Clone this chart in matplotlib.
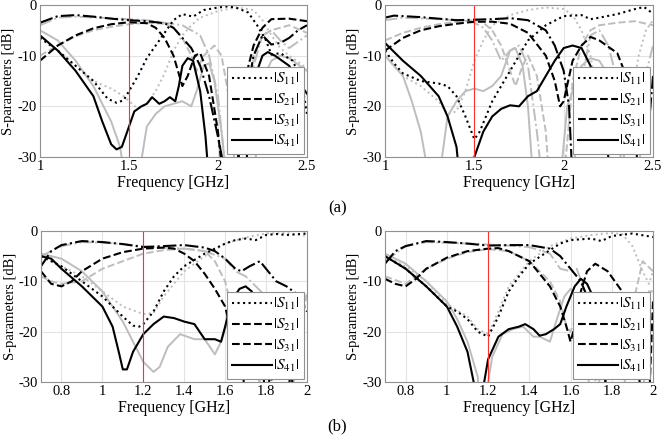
import matplotlib
matplotlib.use("Agg")
import matplotlib.pyplot as plt
from matplotlib.lines import Line2D

plt.rcParams['font.family'] = 'serif'
plt.rcParams['font.serif'] = ['Liberation Serif', 'DejaVu Serif']
plt.rcParams['mathtext.fontset'] = 'stix'
plt.rcParams['axes.unicode_minus'] = False

# ---- data: (frequency GHz, dB); -35 means "below the axis" ----
# (a) left panel
aL_s11 = [(1, -6.5), (1.1, -9), (1.2, -12), (1.3, -15), (1.38, -18.5), (1.43, -19.3), (1.47, -18.8), (1.5, -17),
          (1.55, -14), (1.6, -10.5), (1.7, -5.5), (1.75, -3), (1.8, -1.8), (1.86, -2.3), (1.92, -1.0), (2.0, -0.5),
          (2.05, -0.3), (2.1, -0.5), (2.17, -1.5), (2.22, -4), (2.27, -7), (2.3, -9.8), (2.35, -9.5), (2.42, -11),
          (2.47, -15), (2.5, -21.5)]
aL_s11g = [(1, -6), (1.1, -9), (1.2, -12), (1.3, -15), (1.4, -16.5), (1.47, -18), (1.55, -20.5), (1.6, -19.5),
           (1.65, -17), (1.7, -13.5), (1.75, -9), (1.8, -6), (1.85, -4), (1.9, -2.5), (2.0, -1.2), (2.1, -0.5),
           (2.2, -1), (2.25, -3), (2.3, -6), (2.35, -8.5), (2.4, -10), (2.5, -12.5)]
aL_s21 = [(1, -11), (1.1, -8), (1.2, -6), (1.3, -4.6), (1.4, -3.8), (1.5, -3.4), (1.6, -3.6), (1.65, -4.5),
          (1.7, -6.5), (1.75, -10), (1.8, -16), (1.83, -14), (1.87, -10), (1.9, -9.5), (1.95, -14), (2.0, -25),
          (2.03, -35), (2.1, -35), (2.15, -15), (2.2, -8), (2.25, -4.5), (2.3, -2.8), (2.4, -2.7), (2.5, -3.2)]
aL_s21g = [(1, -10), (1.1, -8), (1.2, -6.2), (1.3, -5), (1.4, -4.3), (1.5, -3.8), (1.6, -3.5), (1.7, -3.7),
           (1.75, -4.5), (1.8, -6.5), (1.85, -10), (1.88, -13), (1.92, -10), (1.98, -8), (2.02, -10), (2.07, -20),
           (2.1, -35), (2.17, -35), (2.2, -10), (2.25, -6), (2.3, -5), (2.4, -4), (2.5, -5.5)]
aL_s31 = [(1, -3.5), (1.1, -2.2), (1.2, -2.0), (1.3, -2.3), (1.4, -2.7), (1.5, -3.0), (1.6, -3.2), (1.7, -3.6),
          (1.75, -4.5), (1.8, -6.5), (1.85, -8.5), (1.9, -12), (1.95, -18), (2.0, -26), (2.05, -35), (2.1, -35),
          (2.15, -20), (2.2, -10), (2.25, -6), (2.3, -7.8), (2.35, -7.5), (2.4, -6.5), (2.45, -5), (2.5, -4)]
aL_s31g = [(1, -4), (1.1, -2.5), (1.2, -2.3), (1.4, -2.6), (1.6, -3), (1.7, -3.5), (1.8, -4), (1.85, -5),
           (1.9, -6), (1.95, -10), (2.0, -18), (2.05, -35), (2.15, -35), (2.2, -12), (2.25, -6), (2.3, -5),
           (2.35, -7), (2.4, -8.5), (2.5, -6)]
aL_s41 = [(1, -6), (1.1, -9), (1.2, -13), (1.3, -18), (1.35, -23), (1.4, -27.5), (1.43, -28.5), (1.46, -28),
          (1.5, -24), (1.53, -21), (1.57, -20), (1.6, -19.5), (1.63, -18.2), (1.67, -19.5), (1.7, -19),
          (1.73, -18.2), (1.76, -19), (1.78, -16), (1.8, -12), (1.83, -10.5), (1.86, -11), (1.9, -17),
          (1.93, -26), (1.95, -35), (2.15, -35), (2.2, -15), (2.25, -10), (2.28, -9.3), (2.32, -10),
          (2.4, -12), (2.45, -15), (2.5, -17.5)]
aL_s41g = [(1, -5), (1.1, -7), (1.2, -11), (1.3, -16), (1.4, -23), (1.45, -28), (1.48, -35), (1.55, -35),
           (1.6, -24), (1.65, -21.5), (1.7, -20), (1.75, -19.5), (1.8, -19), (1.85, -20), (1.88, -17),
           (1.92, -12), (1.95, -11.5), (1.98, -15), (2.02, -25), (2.05, -35), (2.2, -35), (2.25, -15),
           (2.3, -11), (2.35, -10), (2.4, -10.5), (2.5, -13)]

# (a) right panel
aR_s11 = [(1, -9), (1.05, -11.5), (1.1, -13.5), (1.2, -15), (1.3, -15.5), (1.35, -16), (1.4, -18), (1.45, -22),
          (1.5, -26.5), (1.53, -25), (1.6, -19), (1.7, -13), (1.8, -7), (1.9, -4), (2.0, -2.2), (2.1, -2),
          (2.15, -2.8), (2.2, -2.5), (2.3, -1.8), (2.4, -0.8), (2.45, -0.4), (2.5, -1.7)]
aR_s11g = [(1, -10), (1.1, -14), (1.2, -16), (1.3, -19), (1.35, -21.5), (1.4, -21), (1.45, -17), (1.5, -11),
           (1.55, -7), (1.6, -4), (1.7, -2), (1.8, -1), (1.9, -0.5), (2.0, -0.8), (2.05, -2), (2.1, -5),
           (2.15, -10), (2.2, -20), (2.25, -35), (2.32, -35), (2.37, -20), (2.42, -10), (2.46, -5), (2.5, -3)]
aR_s21 = [(1, -9), (1.1, -6.5), (1.2, -5), (1.3, -4.2), (1.4, -3.7), (1.5, -3.3), (1.6, -3.3), (1.7, -3.7),
          (1.8, -5.5), (1.9, -10), (1.95, -15), (1.98, -20), (2.0, -19), (2.05, -11), (2.1, -8), (2.15, -6.3),
          (2.2, -7), (2.3, -9.5), (2.35, -14), (2.4, -25), (2.42, -35)]
aR_s21g = [(1, -7), (1.1, -5.5), (1.2, -4.5), (1.3, -3.8), (1.4, -3.3), (1.5, -3), (1.55, -3.5), (1.6, -5),
           (1.65, -8), (1.7, -13), (1.73, -16), (1.77, -12), (1.8, -10), (1.85, -14), (1.9, -25), (1.92, -35),
           (2.0, -35), (2.05, -15), (2.1, -8), (2.15, -5), (2.2, -4), (2.3, -3.5), (2.4, -3.2), (2.5, -4)]
aR_s31 = [(1, -2.5), (1.05, -2.1), (1.2, -2.4), (1.4, -3), (1.6, -2.8), (1.7, -2.6), (1.8, -3), (1.9, -5),
          (1.95, -8), (2.0, -13), (2.03, -20), (2.05, -35), (2.45, -35), (2.5, -14)]
aR_s31g = [(1, -3), (1.1, -2.5), (1.3, -2.8), (1.4, -3), (1.5, -3.5), (1.55, -4.5), (1.6, -7), (1.65, -11),
           (1.7, -9), (1.75, -8), (1.8, -12), (1.85, -25), (1.88, -35), (2.05, -35), (2.1, -15), (2.15, -6),
           (2.2, -5), (2.25, -8), (2.3, -15), (2.35, -35), (2.42, -35), (2.45, -15), (2.5, -8)]
aR_s41 = [(1, -7.5), (1.1, -11), (1.2, -14), (1.3, -18), (1.35, -22), (1.4, -28), (1.42, -35), (1.5, -35),
          (1.5, -30), (1.55, -25), (1.6, -22), (1.65, -20.5), (1.7, -19.8), (1.75, -20), (1.8, -18),
          (1.85, -17), (1.9, -14), (1.95, -11), (2.0, -8.5), (2.05, -8), (2.1, -8.5), (2.15, -12), (2.2, -20),
          (2.25, -30), (2.3, -35)]
aR_s41g = [(1, -10), (1.1, -14), (1.15, -19), (1.2, -25), (1.25, -35), (1.3, -35), (1.35, -22), (1.4, -19),
           (1.45, -17), (1.5, -16.5), (1.55, -17), (1.6, -16), (1.65, -14), (1.7, -9), (1.73, -8.5),
           (1.77, -12), (1.8, -20), (1.83, -35), (1.98, -35), (2.02, -20), (2.1, -12), (2.15, -10.5),
           (2.2, -11), (2.25, -14), (2.3, -22), (2.33, -35)]

# (b) left panel
bL_s11 = [(0.7, -5), (0.8, -7), (0.9, -10), (1.0, -13), (1.05, -15), (1.1, -17), (1.15, -18.8), (1.18, -19),
          (1.2, -18.5), (1.25, -16), (1.3, -12), (1.35, -9), (1.4, -7), (1.5, -4.5), (1.55, -3.5), (1.6, -2.5),
          (1.65, -1.8), (1.7, -1.5), (1.75, -1.8), (1.8, -0.8), (1.85, -0.6), (1.9, -0.8), (2.0, -0.5)]
bL_s11g = [(0.7, -5), (0.8, -7), (0.9, -9), (1.0, -12), (1.1, -15), (1.2, -16.5), (1.25, -16.3), (1.3, -13),
           (1.4, -8), (1.5, -5), (1.6, -2.5), (1.7, -1.3), (1.8, -0.5), (1.9, -0.4), (2.0, -1)]
bL_s21 = [(0.7, -8), (0.75, -10.5), (0.8, -11), (0.85, -10), (0.9, -8), (1.0, -5.5), (1.1, -4.2), (1.2, -3.5),
          (1.3, -3.3), (1.35, -3.5), (1.4, -4.5), (1.45, -6), (1.5, -8.5), (1.55, -11.5), (1.6, -15),
          (1.63, -20), (1.66, -26), (1.68, -24), (1.7, -35), (1.8, -35), (1.82, -28), (1.85, -35)]
bL_s21g = [(0.7, -9), (0.75, -10), (0.8, -10.5), (0.9, -10), (1.0, -7.5), (1.1, -6), (1.2, -4.5), (1.3, -3.8),
           (1.4, -3.5), (1.5, -4), (1.55, -6), (1.6, -10), (1.63, -15), (1.65, -19), (1.68, -15), (1.7, -14),
           (1.75, -24), (1.78, -35), (1.92, -35), (1.95, -25), (2.0, -12)]
bL_s31 = [(0.7, -7), (0.75, -4), (0.8, -2.8), (0.9, -2), (1.0, -2.2), (1.1, -2.6), (1.2, -3.2), (1.3, -3),
          (1.4, -2.8), (1.5, -3.3), (1.55, -4), (1.6, -5.5), (1.65, -7.5), (1.68, -8), (1.72, -7), (1.77, -6),
          (1.8, -7.5), (1.85, -10), (1.9, -11), (1.95, -12.5), (2.0, -16)]
bL_s31g = [(0.7, -5), (0.8, -3), (0.9, -2.2), (1.0, -2.3), (1.1, -2.6), (1.2, -3), (1.3, -3.3), (1.4, -3.5),
           (1.5, -4), (1.6, -5.5), (1.65, -8), (1.7, -9), (1.75, -11), (1.8, -13), (1.85, -18), (1.9, -25),
           (1.95, -35)]
bL_s41 = [(0.7, -5), (0.75, -5.5), (0.8, -7.5), (0.9, -11), (1.0, -15), (1.05, -19), (1.08, -24), (1.1, -27.5),
          (1.12, -27.5), (1.15, -24), (1.2, -20.5), (1.25, -18.5), (1.3, -17), (1.35, -17.3), (1.4, -18),
          (1.45, -18.5), (1.5, -21.5), (1.53, -21.5), (1.55, -21.5), (1.58, -22), (1.6, -19), (1.63, -14),
          (1.67, -11.5), (1.7, -11), (1.73, -12), (1.75, -16), (1.78, -25), (1.8, -35), (1.9, -35), (1.92, -28),
          (1.95, -35)]
bL_s41g = [(0.7, -4.5), (0.8, -5.5), (0.9, -8), (1.0, -12), (1.1, -18), (1.15, -22), (1.2, -26), (1.25, -28),
           (1.28, -27), (1.32, -23), (1.38, -20.5), (1.45, -21.5), (1.5, -21.5), (1.55, -24.5), (1.58, -22),
           (1.62, -17), (1.66, -14), (1.7, -14.5), (1.75, -20), (1.78, -35)]

# (b) right panel
bR_s11 = [(0.7, -5), (0.8, -7.5), (0.9, -11), (1.0, -15), (1.05, -16), (1.1, -17.5), (1.15, -20), (1.2, -21),
          (1.25, -17), (1.3, -12), (1.35, -9), (1.4, -6.5), (1.5, -3.8), (1.55, -2.5), (1.6, -1.8), (1.7, -1.5),
          (1.75, -2), (1.8, -1), (1.9, -0.5), (2.0, -1.2)]
bR_s11g = [(0.7, -5), (0.8, -7), (0.9, -10), (1.0, -14.5), (1.1, -17), (1.15, -19.5), (1.2, -20.5),
           (1.25, -16), (1.3, -11), (1.4, -6), (1.5, -3), (1.6, -1.5), (1.7, -0.8), (1.8, -0.4), (1.85, -0.6),
           (1.9, -3), (1.95, -8), (1.98, -10.5), (2.0, -8)]
bR_s21 = [(0.7, -9.5), (0.75, -10.5), (0.8, -11), (0.85, -9.5), (0.9, -7.5), (1.0, -5.3), (1.1, -4),
          (1.2, -3.5), (1.25, -3.4), (1.3, -4), (1.4, -6), (1.45, -8.5), (1.5, -11), (1.55, -15), (1.58, -19),
          (1.6, -22), (1.62, -19), (1.65, -12), (1.68, -8), (1.72, -6.5), (1.78, -8), (1.85, -12), (1.9, -18),
          (1.95, -35), (1.98, -35), (2.0, -14)]
bR_s21g = [(0.7, -9), (0.8, -10.5), (0.9, -7.5), (1.0, -5.5), (1.1, -4.2), (1.2, -3.6), (1.3, -4), (1.4, -6),
           (1.5, -10), (1.55, -14), (1.58, -19), (1.6, -20), (1.63, -17), (1.68, -13), (1.72, -20), (1.75, -35),
           (1.85, -35), (1.9, -15), (1.95, -6), (2.0, -8)]
bR_s31 = [(0.7, -6.5), (0.75, -4), (0.8, -3), (0.9, -2), (1.0, -2.2), (1.1, -2.5), (1.2, -2.9), (1.3, -2.8),
          (1.4, -2.8), (1.5, -3.5), (1.55, -5), (1.6, -7.5), (1.65, -10), (1.7, -15), (1.75, -22), (1.78, -35)]
bR_s31g = [(0.7, -6), (0.8, -3), (0.9, -2.2), (1.1, -2.5), (1.3, -2.9), (1.4, -3.2), (1.5, -4.5), (1.55, -7.5),
           (1.6, -8), (1.63, -7.5), (1.67, -12), (1.7, -18), (1.73, -35)]
bR_s41 = [(0.7, -5), (0.8, -7.5), (0.9, -11), (1.0, -15), (1.05, -19), (1.1, -24), (1.13, -30), (1.14, -35),
          (1.16, -35), (1.2, -25.5), (1.25, -21), (1.3, -19.5), (1.35, -19), (1.38, -18.5), (1.42, -19.5),
          (1.45, -20.8), (1.48, -20.5), (1.52, -19.5), (1.55, -18.5), (1.58, -15), (1.62, -11), (1.65, -9.5),
          (1.68, -10.5), (1.72, -14), (1.75, -20), (1.78, -35)]
bR_s41g = [(0.7, -4.5), (0.8, -6.5), (0.9, -10), (1.0, -14), (1.05, -17.5), (1.1, -22), (1.15, -29),
           (1.16, -35), (1.18, -35), (1.22, -25), (1.27, -20.5), (1.32, -19.5), (1.37, -19), (1.42, -21),
           (1.45, -21), (1.5, -22), (1.53, -18), (1.57, -13), (1.6, -11.5), (1.63, -13), (1.67, -22), (1.7, -35),
           (1.95, -35), (1.98, -12), (2.0, -12)]

labels = [r'$|S_{11}|$', r'$|S_{21}|$', r'$|S_{31}|$', r'$|S_{41}|$']
styles = [':', '--', '-.', '-']
grey = '#bdbdbd'

panels = [
    ([0.0605, 0.644, 0.4039, 0.3447], (1, 2.5), [1, 1.5, 2, 2.5], 1.5,
     [aL_s11, aL_s21, aL_s31, aL_s41], [aL_s11g, aL_s21g, aL_s31g, aL_s41g]),
    ([0.5825, 0.644, 0.4054, 0.3447], (1, 2.5), [1, 1.5, 2, 2.5], 1.5,
     [aR_s11, aR_s21, aR_s31, aR_s41], [aR_s11g, aR_s21g, aR_s31g, aR_s41g]),
    ([0.062, 0.1338, 0.4024, 0.3424], (0.7, 2), [0.8, 1, 1.2, 1.4, 1.6, 1.8, 2], 1.2,
     [bL_s11, bL_s21, bL_s31, bL_s41], [bL_s11g, bL_s21g, bL_s31g, bL_s41g]),
    ([0.5825, 0.1338, 0.4054, 0.3424], (0.7, 2), [0.8, 1, 1.2, 1.4, 1.6, 1.8, 2], 1.2,
     [bR_s11, bR_s21, bR_s31, bR_s41], [bR_s11g, bR_s21g, bR_s31g, bR_s41g]),
]

fig = plt.figure(figsize=(6.61, 4.41), dpi=100)

for rect, xlim, xticks, fc, meas, sim in panels:
    ax = fig.add_axes(rect)
    # simulated (grey) first, measured (black) on top
    for curve, ls in zip(sim, styles):
        x, y = zip(*curve)
        ax.plot(x, y, ls, color=grey, lw=1.4)
    for curve, ls in zip(meas, styles):
        x, y = zip(*curve)
        ax.plot(x, y, ls, color='black', lw=1.5)
    ax.axvline(fc, color='#ff3030', lw=0.8)
    ax.set_xlim(*xlim)
    ax.set_ylim(-30, 0)
    ax.set_xticks(xticks)
    ax.set_xticklabels([('%g' % t) for t in xticks])
    ax.set_yticks([-30, -20, -10, 0])
    ax.grid(True, color='#e3e3e3', lw=0.8)
    ax.set_axisbelow(True)
    for s in ax.spines.values():
        s.set_color('#909090')
    ax.tick_params(labelsize=10.5, length=0, pad=2.5)
    ax.set_xlabel('Frequency [GHz]', fontsize=11.5, labelpad=1)
    ax.set_ylabel('S-parameters [dB]', fontsize=10.5)
    ax.yaxis.set_label_coords(-0.092, 0.5)
    handles = [Line2D([], [], color='black', ls=ls, lw=1.5) for ls in [':', '--', '--', '-']]
    leg = ax.legend(handles, labels, loc='lower right', fontsize=11, fancybox=False, framealpha=1,
                    edgecolor='#909090', borderpad=0.3, labelspacing=0.3, handlelength=2.6,
                    handletextpad=0.1, borderaxespad=0.2)
    leg.get_frame().set_linewidth(0.8)

fig.text(0.51, 0.528, '(a)', ha='center', va='center', fontsize=12)
fig.text(0.51, 0.034, '(b)', ha='center', va='center', fontsize=12)

fig.savefig('out.png', dpi=100)
